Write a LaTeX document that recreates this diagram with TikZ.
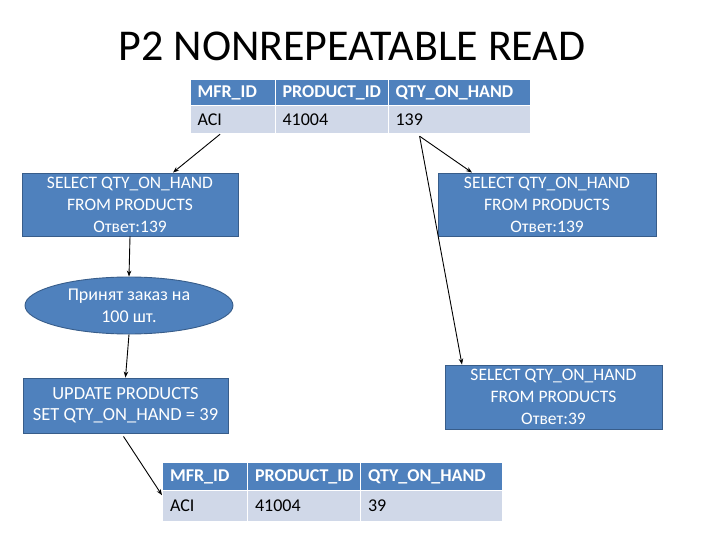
\documentclass[tikz,border=0pt]{standalone}
\usepackage{fontspec}
\setmainfont{Carlito}
\usetikzlibrary{arrows.meta,shapes.geometric}
\definecolor{obox}{HTML}{4F81BD}
\definecolor{oedge}{HTML}{385D8A}
\definecolor{orow}{HTML}{D0D8E8}
\tikzset{
  bluebox/.style={draw=oedge, line width=0.9pt, fill=obox, text=white, align=center, inner sep=0pt},
  cell/.style={anchor=north west, draw=white, line width=1.2pt, inner xsep=7pt, inner ysep=0pt, align=left},
  hcell/.style={cell, fill=obox, text=white, font=\fontsize{18}{20}\selectfont\bfseries},
  dcell/.style={cell, fill=orow, text=black, font=\fontsize{18}{20}\selectfont},
  conn/.style={line width=0.9pt, -{Stealth[length=6pt,width=4.5pt]}},
}
\begin{document}
\begin{tikzpicture}[x=1pt,y=-1pt]
\useasboundingbox (0,0) rectangle (720,540);
% title
\node[font=\fontsize{44}{48}\selectfont] (title) at (352,46) {P2 NONREPEATABLE READ};
% top table
\node[hcell, text width=71pt, minimum height=26pt] (ta1) at (190,79) {MFR\_ID};
\node[hcell, text width=99pt, minimum height=26pt] (ta2) at (275,79) {PRODUCT\_ID};
\node[hcell, text width=128pt, minimum height=26pt] (ta3) at (388,79) {QTY\_ON\_HAND};
\node[dcell, text width=71pt, minimum height=28pt] (tb1) at (190,105) {ACI};
\node[dcell, text width=99pt, minimum height=28pt] (tb2) at (275,105) {41004};
\node[dcell, text width=128pt, minimum height=28pt] (tb3) at (388,105) {139};
% left select
\node[bluebox, minimum width=216pt, minimum height=63pt, font=\fontsize{17.5}{22}\selectfont] (sel1) at (130,204.5)
  {SELECT QTY\_ON\_HAND\\FROM PRODUCTS\\Ответ:139};
% right select
\node[bluebox, minimum width=218pt, minimum height=63pt, font=\fontsize{17.5}{22}\selectfont] (sel2) at (547,204.5)
  {SELECT QTY\_ON\_HAND\\FROM PRODUCTS\\Ответ:139};
% ellipse
\node[bluebox, ellipse, minimum width=208pt, minimum height=57pt, font=\fontsize{18}{22}\selectfont] (ord) at (129,305.5)
  {Принят заказ на\\100 шт.};
% update
\node[bluebox, minimum width=205pt, minimum height=55pt, font=\fontsize{18.5}{21}\selectfont] (upd) at (125.5,405.5)
  {UPDATE PRODUCTS\\SET QTY\_ON\_HAND = 39};
% right bottom select
\node[bluebox, minimum width=217pt, minimum height=64pt, font=\fontsize{17.5}{22}\selectfont] (sel3) at (553.5,397)
  {SELECT QTY\_ON\_HAND\\FROM PRODUCTS\\Ответ:39};
% bottom table
\node[hcell, text width=70pt, minimum height=28pt, inner xsep=7.5pt] (ba1) at (162,462) {MFR\_ID};
\node[hcell, text width=98pt, minimum height=28pt, inner xsep=7.5pt] (ba2) at (247,462) {PRODUCT\_ID};
\node[hcell, text width=127pt, minimum height=28pt, inner xsep=7.5pt] (ba3) at (360,462) {QTY\_ON\_HAND};
\node[dcell, text width=70pt, minimum height=31pt, inner xsep=7.5pt] (bb1) at (162,490) {ACI};
\node[dcell, text width=98pt, minimum height=31pt, inner xsep=7.5pt] (bb2) at (247,490) {41004};
\node[dcell, text width=127pt, minimum height=31pt, inner xsep=7.5pt] (bb3) at (360,490) {39};
% connectors
\draw[conn] ([xshift=-13pt]tb1.south) -- ([xshift=43pt]sel1.north);
\draw[conn] (sel1.south) -- (ord.north);
\draw[conn] (ord.south) -- (upd.north);
\draw[conn] ([xshift=-2pt,yshift=-3pt]upd.south) -- ([yshift=-4pt]ba1.south west);
\draw[conn] ([xshift=-40pt,yshift=-2pt]tb3.south) -- ([xshift=-75pt]sel2.north);
\draw[conn] ([xshift=-40pt,yshift=-2pt]tb3.south) -- ([xshift=-91.5pt]sel3.north);
\end{tikzpicture}
\end{document}
